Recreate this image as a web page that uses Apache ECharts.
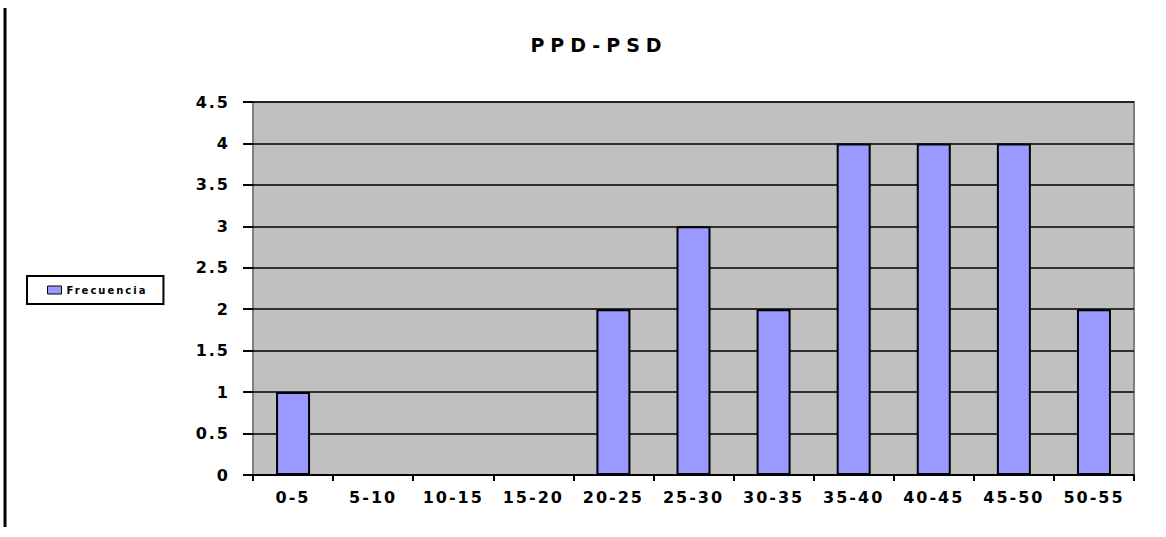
<!DOCTYPE html>
<html>
<head>
<meta charset="utf-8">
<script src="https://cdn.jsdelivr.net/npm/echarts@6/dist/echarts.min.js"></script>
<style>
  html, body { margin: 0; padding: 0; background: #fff; }
  #chart { width: 1166px; height: 537px; }
</style>
</head>
<body>
<div id="chart"></div>
<script>
const categories = ["0-5", "5-10", "10-15", "15-20", "20-25", "25-30", "30-35", "35-40", "40-45", "45-50", "50-55"];
const frecuencia = [1, 0, 0, 0, 2, 3, 2, 4, 4, 4, 2];
const seriesName = "Frecuencia";
const chartTitle = "PPD-PSD";

const chart = echarts.init(document.getElementById("chart"), null, { renderer: "svg" });
chart.setOption({
  animation: false,
  textStyle: { fontFamily: "DejaVu Sans, sans-serif" },
  title: {
    text: chartTitle,
    left: 594,
    top: 30,
    textAlign: "center",
    textStyle: { fontSize: 19, fontWeight: "bold", color: "#000", fontFamily: "DejaVu Sans" }
  },
  legend: {
    left: 27,
    top: 276,
    orient: "vertical",
    padding: [9, 36, 9, 20],
    borderColor: "#000",
    borderWidth: 2,
    backgroundColor: "#fff",
    itemWidth: 14,
    itemHeight: 8,
    icon: "rect",
    itemStyle: { borderColor: "#000", borderWidth: 1 },
    textStyle: { fontSize: 10, fontWeight: "bold", color: "#000", fontFamily: "DejaVu Sans" },
    data: [seriesName]
  },
  grid: {
    left: 253,
    right: 32,
    top: 102,
    bottom: 62,
    show: true,
    backgroundColor: "#c0c0c0",
    borderColor: "#808080",
    borderWidth: 2
  },
  xAxis: {
    type: "category",
    data: categories,
    axisLine: { lineStyle: { color: "#000", width: 2 } },
    axisTick: { show: true, length: 6, lineStyle: { color: "#000", width: 2 } },
    axisLabel: { color: "#000", fontSize: 16, fontWeight: "bold", margin: 14, fontFamily: "DejaVu Sans" }
  },
  yAxis: {
    type: "value",
    min: 0,
    max: 4.5,
    interval: 0.5,
    axisLine: { show: false },
    axisTick: { show: true, length: 10, lineStyle: { color: "#000", width: 2 } },
    axisLabel: { color: "#000", fontSize: 16, fontWeight: "bold", margin: 23, fontFamily: "DejaVu Sans" },
    splitLine: { show: true, lineStyle: { color: "#000", width: 1.5 } }
  },
  graphic: [
    {
      type: "line",
      shape: { x1: 5, y1: 8, x2: 5, y2: 527 },
      style: { stroke: "#000", lineWidth: 3 }
    }
  ],
  series: [
    {
      name: seriesName,
      type: "bar",
      data: frecuencia,
      barWidth: 34,
      itemStyle: { color: "#9999ff", borderColor: "#000", borderWidth: 2 }
    }
  ]
});

// the original text is drawn with wide letter spacing
document.querySelectorAll("#chart svg text").forEach(function (t) {
  const s = t.textContent;
  let sp = 2;
  if (s === chartTitle) sp = 6;
  t.style.letterSpacing = sp + "px";
});
</script>
</body>
</html>
